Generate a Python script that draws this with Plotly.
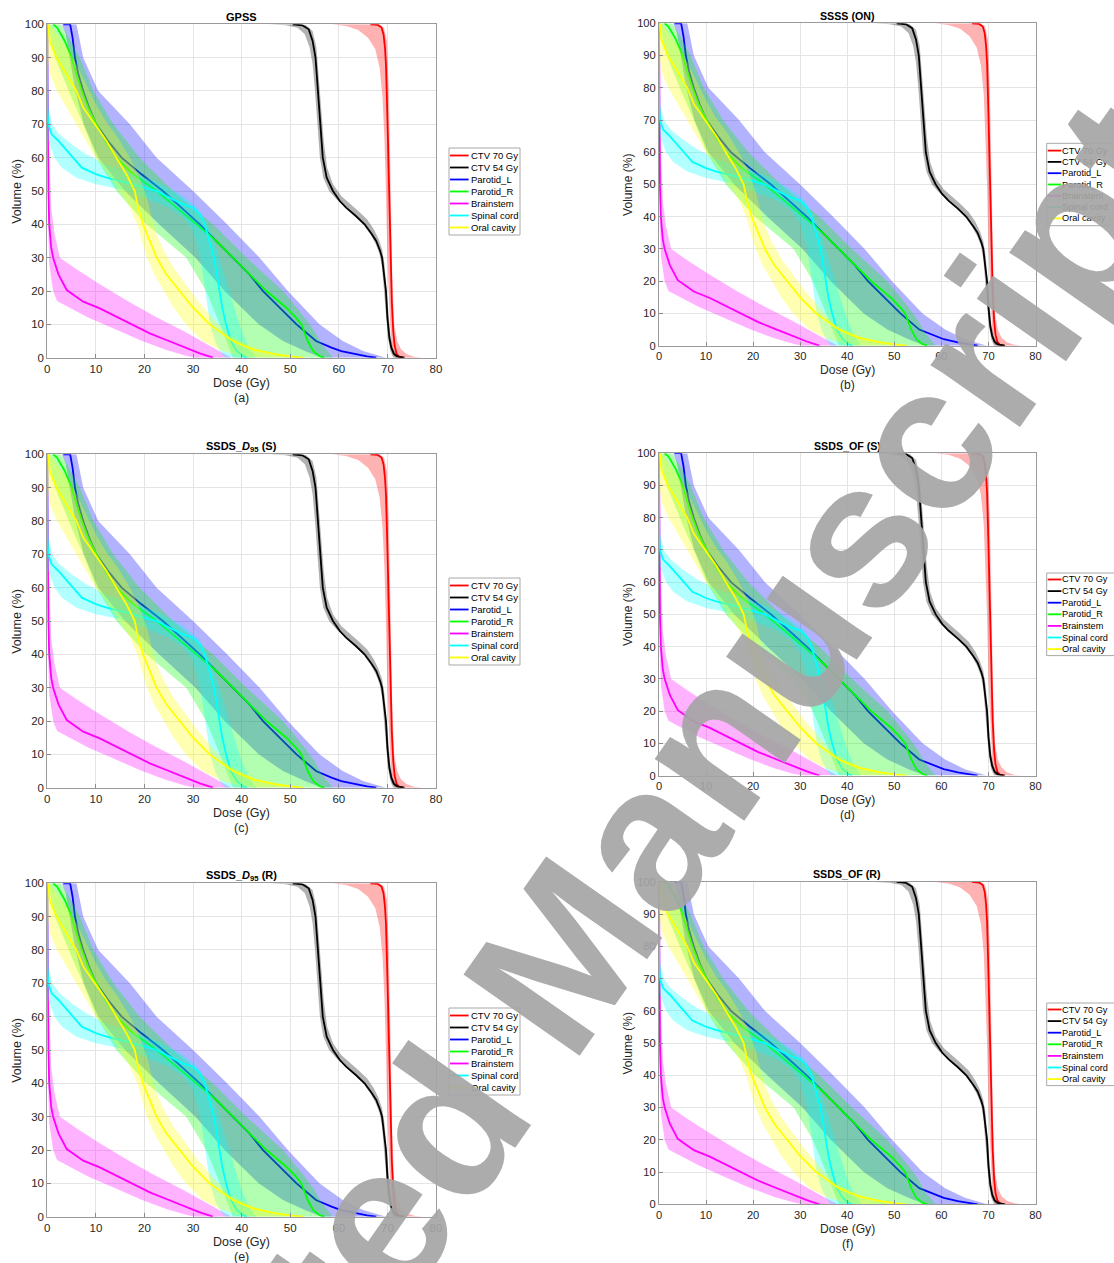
import plotly.graph_objects as go

W, H = 1114, 1263

# ---------------- data ----------------
panel_titles = ["<b>GPSS</b>", "<b>SSSS (ON)</b>",
                "<b>SSDS_<i>D</i><sub>95</sub> (S)</b>", "<b>SSDS_OF (S)</b>",
                "<b>SSDS_<i>D</i><sub>95</sub> (R)</b>", "<b>SSDS_OF (R)</b>"]
panel_letters = ["(a)", "(b)", "(c)", "(d)", "(e)", "(f)"]
structures = ["CTV 70 Gy", "CTV 54 Gy", "Parotid_L", "Parotid_R", "Brainstem", "Spinal cord", "Oral cavity"]
x_ticks = [0, 10, 20, 30, 40, 50, 60, 70, 80]
y_ticks = [0, 10, 20, 30, 40, 50, 60, 70, 80, 90, 100]

ctv70_dose = [66.5, 68.0, 68.8, 69.2, 69.5, 69.7, 70.0, 70.3, 70.6, 70.9, 71.2, 71.5, 71.9, 72.4, 73.2]
ctv70_vol = [100, 99.8, 99, 97, 93, 88, 72, 52, 32, 17, 8, 3.5, 1.2, 0.3, 0]
ctv70_low_dose = [58.5, 61.5, 64.0, 66.0, 67.5, 68.4, 69.0, 69.4, 69.7, 70.0, 70.4, 70.8, 71.2, 71.6]
ctv70_low_vol = [100, 99.5, 98.3, 96, 92.5, 87, 78, 65, 50, 30, 15, 5, 1, 0]
ctv70_high_dose = [68.3, 69.3, 69.9, 70.3, 70.7, 71.0, 71.4, 72.0, 72.8, 74.0, 75.5, 77.0]
ctv70_high_vol = [100, 99, 95, 80, 50, 25, 10, 5, 2.5, 1, 0.3, 0]

ctv54_dose = [50.5, 52.5, 53.8, 54.6, 55.2, 55.7, 56.2, 56.7, 57.5, 58.8, 60.2, 61.5, 63.5, 65.3, 66.8,
              67.7, 68.5, 68.9, 69.3, 69.7, 70.0, 70.4, 70.8, 71.3, 72.0, 73.5]
ctv54_vol = [100, 99.7, 98.5, 95, 90, 80, 70, 60, 54, 50, 47, 45, 42.5, 40, 37,
             35, 32, 30, 25, 20, 12, 6, 3, 1.2, 0.4, 0]
ctv54_low_dose = [45.5, 49.0, 51.5, 53.0, 54.0, 54.6, 55.1, 55.6, 56.1, 56.8, 58.0, 59.5, 61.0, 63.0,
                  65.0, 66.5, 67.6, 68.4, 68.9, 69.3, 69.7, 70.1, 70.6, 71.2]
ctv54_low_vol = [100, 99.7, 99, 97, 93, 88, 80, 70, 60, 54, 50, 47.5, 45.5, 43,
                 40, 37, 34, 31, 27, 21, 13, 6, 2, 0]
ctv54_high_dose = [51.5, 53.2, 54.6, 55.4, 55.9, 56.4, 56.9, 57.6, 58.8, 60.5, 62.0, 64.0, 65.8, 67.2,
                   68.2, 68.9, 69.4, 69.8, 70.2, 70.6, 71.1, 71.8, 72.6, 73.8]
ctv54_high_vol = [100, 99.8, 98, 93, 85, 75, 65, 57, 52, 48.5, 46.5, 44, 41.5, 38.5,
                  35.5, 32.5, 28, 22, 14, 7, 3, 1.2, 0.4, 0]

parl_dose = [3.3, 4.7, 5.2, 5.7, 6.4, 7.4, 8.6, 10.1, 12.5, 15.3, 19.4, 23.8, 27.6, 31.4, 34.8,
             38.2, 41.6, 44.4, 47.8, 51.3, 55.3, 58.5, 60.5, 63.5, 65.8, 67.7]
parl_vol = [100, 100, 96, 90, 85, 80, 75, 70, 65, 60, 55, 50, 45, 40, 35,
            30, 25, 20, 15, 10, 5, 3, 2, 1, 0.4, 0]
parl_low_dose = [3.0, 3.8, 4.6, 5.8, 7.5, 10.5, 16.0, 23.0, 30.5, 36.5, 43.5, 48.5, 53.0, 56.5]
parl_low_vol = [100, 97, 90, 80, 70, 60, 50, 40, 30, 20, 10, 5, 2, 0]
parl_high_dose = [6.0, 7.4, 10.5, 17.0, 22.5, 30.0, 37.0, 43.7, 49.5, 56.0, 60.8, 65.0, 69.7]
parl_high_vol = [100, 90, 80, 70, 60, 50, 40, 30, 20, 10, 5, 2, 0]

parr_dose = [1.2, 2.0, 3.6, 5.0, 6.0, 7.1, 8.4, 10.1, 12.0, 14.2, 17.7, 22.5, 26.6, 30.7, 34.8,
             38.2, 41.6, 45.1, 49.2, 51.2, 52.3, 53.0, 53.6, 54.7, 56.0, 57.0]
parr_vol = [100, 99, 95, 90, 85, 80, 75, 70, 65, 60, 55, 50, 45, 40, 35,
            30, 25, 20, 15, 12, 10, 7.5, 5, 2, 0.5, 0]
parr_low_dose = [0.2, 0.8, 1.6, 3.0, 5.0, 7.4, 10.1, 14.2, 20.4, 28.6, 32.7, 35.5, 36.8, 38.2]
parr_low_vol = [100, 95, 90, 85, 78, 70, 60, 50, 40, 30, 20, 10, 5, 0]
parr_high_dose = [2.8, 4.5, 6.7, 9.5, 13.6, 19.0, 25.9, 34.1, 41.0, 48.5, 53.0, 55.0, 56.5, 58.8]
parr_high_vol = [100, 96, 90, 80, 70, 60, 50, 40, 30, 20, 12, 8, 4, 0]

brain_dose = [0, 0.05, 0.2, 0.4, 0.8, 1.2, 2.3, 4.0, 7.4, 10.8, 14.2, 17.7, 21.1, 24.5, 27.9, 31.4, 34.1]
brain_vol = [100, 70, 50, 40, 33, 30, 25, 20.3, 16.8, 14.8, 12.3, 9.8, 7.3, 5.3, 3.3, 1.3, 0]
brain_low_dose = [0, 0.05, 0.15, 0.4, 1.2, 2.0, 4.5, 8.5, 14.0, 19.5, 24.5, 28.5, 30.5]
brain_low_vol = [100, 60, 40, 28, 20, 17, 15, 12, 8.5, 5, 2.3, 0.6, 0]
brain_high_dose = [0, 0.3, 0.8, 1.5, 2.6, 6.0, 10.8, 16.5, 22.0, 28.0, 33.0, 36.0, 38.0]
brain_high_vol = [100, 65, 45, 37, 30, 26.5, 22, 17, 12.5, 8, 4, 1.5, 0]

cord_dose = [0, 0, 0.2, 0.9, 2.3, 4.0, 5.3, 7.1, 10.1, 12.2, 17.7, 22.5, 25.2, 27.9, 30.0, 31.4,
             32.4, 33.4, 34.3, 34.9, 35.4, 36.0, 36.8, 37.8, 39.0, 40.3, 41.0]
cord_vol = [100, 75, 70, 67, 65, 62, 60, 57, 55, 54, 52, 50, 48, 46, 45, 43,
            40, 35, 30, 25, 20, 15, 10, 5, 2, 0.5, 0]
cord_low_dose = [0, 0, 0.2, 1.5, 3.0, 6.0, 10.0, 15.0, 20.0, 25.0, 28.0, 30.0, 31.5, 32.5, 33.5, 34.5, 35.5, 36.5]
cord_low_vol = [100, 70, 65, 60, 57, 54, 52, 50.5, 48, 45, 42, 38, 30, 20, 10, 5, 2, 0]
cord_high_dose = [0, 0.3, 1.0, 2.5, 5.0, 8.0, 12.0, 18.0, 23.0, 28.0, 31.0, 33.0, 35.0, 37.0, 38.5, 40.0, 41.5, 43.0]
cord_high_vol = [100, 75, 70, 67, 64, 61, 58, 55, 52.5, 48.5, 45, 40, 32, 22, 15, 8, 3, 0]

oral_dose = [0.2, 0.5, 1.9, 4.0, 6.0, 7.4, 9.8, 12.2, 14.2, 16.3, 18.0, 18.7, 19.7, 21.1, 22.5, 24.5,
             27.3, 30.0, 33.4, 38.2, 42.3, 47.1, 50.5, 52.6]
oral_vol = [100, 95, 90, 85, 80, 75, 70, 65, 60, 55, 50, 45, 40, 35, 30, 25,
            20, 15, 10, 5, 2.5, 1, 0.3, 0]
oral_low_dose = [0, 0.1, 0.5, 2.0, 4.0, 6.0, 8.0, 10.0, 12.5, 15.0, 17.0, 18.5, 19.5, 20.5, 22.0,
                 24.0, 26.0, 28.5, 32.0, 36.0, 40.0, 42.0]
oral_low_vol = [100, 90, 85, 80, 75, 70, 65, 60, 55, 50, 45, 40, 35, 30, 25,
                20, 15, 10, 5, 2, 0.5, 0]
oral_high_dose = [0.5, 2.0, 4.0, 6.0, 8.0, 10.0, 12.0, 14.5, 17.0, 19.0, 20.5, 21.5, 22.5, 24.0, 26.0,
                  28.5, 31.0, 34.0, 37.0, 41.0, 45.0, 49.0, 53.0]
oral_high_vol = [100, 97, 93, 88, 82, 76, 71, 66, 60, 54, 48, 42, 37, 32, 27,
                 22, 17, 12, 7, 4, 1.5, 0.5, 0]

watermark_text = "<b>Accepted Manuscript</b>"

# ---------------- styling ----------------
colors = [(255, 0, 0), (0, 0, 0), (0, 0, 255), (0, 255, 0), (255, 0, 255), (0, 255, 255), (255, 255, 0)]
curves = [
    (ctv70_dose, ctv70_vol, ctv70_low_dose, ctv70_low_vol, ctv70_high_dose, ctv70_high_vol),
    (ctv54_dose, ctv54_vol, ctv54_low_dose, ctv54_low_vol, ctv54_high_dose, ctv54_high_vol),
    (parl_dose, parl_vol, parl_low_dose, parl_low_vol, parl_high_dose, parl_high_vol),
    (parr_dose, parr_vol, parr_low_dose, parr_low_vol, parr_high_dose, parr_high_vol),
    (brain_dose, brain_vol, brain_low_dose, brain_low_vol, brain_high_dose, brain_high_vol),
    (cord_dose, cord_vol, cord_low_dose, cord_low_vol, cord_high_dose, cord_high_vol),
    (oral_dose, oral_vol, oral_low_dose, oral_low_vol, oral_high_dose, oral_high_vol),
]

FONT = "Liberation Sans, Arial, Helvetica, sans-serif"
# plot-area pixel boxes: (left, right, top, bottom)
boxes = [
    (47.3, 436.0, 24.3, 357.7),
    (659.0, 1035.5, 23.3, 345.7),
    (47.3, 436.0, 454.3, 787.7),
    (659.0, 1035.5, 453.2, 775.6),
    (47.3, 436.0, 883.3, 1216.7),
    (659.0, 1035.5, 881.9, 1204.3),
]
# legend boxes: (left, top, row spacing, first row offset, line length, text offset, font size)
legend_boxes = [
    (449.0, 148.0, 12.0, 7.5, 18.6, 20.5, 9.5),
    (1046.7, 143.3, 11.3, 7.3, 13.7, 14.6, 9.2),
    (449.0, 578.0, 12.0, 7.5, 18.6, 20.5, 9.5),
    (1046.7, 573.0, 11.6, 6.5, 13.7, 14.6, 9.2),
    (449.0, 1008.0, 12.0, 7.5, 18.6, 20.5, 9.5),
    (1046.7, 1003.0, 11.6, 6.5, 13.7, 14.6, 9.2),
]
# fonts scale slightly in the (smaller) right-hand column
font_scale = [1.0, 0.97, 1.0, 0.97, 1.0, 0.97]


def px(x):
    return x / W


def py(y):
    return 1 - y / H


fig = go.Figure()
layout = dict(width=W, height=H, margin=dict(l=0, r=0, t=0, b=0, pad=0, autoexpand=False),
              paper_bgcolor="white", plot_bgcolor="white", showlegend=False,
              font=dict(family=FONT, color="#262626"))
annotations = []
shapes = []

for i in range(6):
    l, r, t, b = boxes[i]
    s = font_scale[i]
    xa = "xaxis" if i == 0 else f"xaxis{i+1}"
    ya = "yaxis" if i == 0 else f"yaxis{i+1}"
    xr = "x" if i == 0 else f"x{i+1}"
    yr = "y" if i == 0 else f"y{i+1}"
    common = dict(showgrid=True, gridcolor="#e4e4e4", gridwidth=1, zeroline=False,
                  showline=True, linecolor="#9a9a9a", linewidth=1, mirror=True,
                  ticks="inside", ticklen=4, tickcolor="#8a8a8a", automargin=False,
                  tickfont=dict(size=11.5 * s, color="#262626", family=FONT))
    layout[xa] = dict(domain=[px(l), px(r)], range=[0, 80], tickvals=x_ticks, anchor=yr, **common)
    layout[ya] = dict(domain=[py(b), py(t)], range=[0, 100], tickvals=y_ticks, anchor=xr, **common)

    for (md, mv, ld, lv, hd, hv), (cr, cg, cb) in zip(curves, colors):
        fig.add_trace(go.Scatter(x=ld + hd[::-1], y=lv + hv[::-1], fill="toself", mode="lines",
                                 line=dict(width=0), fillcolor=f"rgba({cr},{cg},{cb},0.3)",
                                 hoverinfo="skip", xaxis=xr, yaxis=yr))
        fig.add_trace(go.Scatter(x=md, y=mv, mode="lines",
                                 line=dict(color=f"rgb({cr},{cg},{cb})", width=1.8),
                                 xaxis=xr, yaxis=yr))

    cx = (l + r) / 2
    annotations.append(dict(text=panel_titles[i], x=px(cx), y=py(t - 7.5), xref="paper", yref="paper",
                            xanchor="center", yanchor="middle", showarrow=False,
                            font=dict(size=11 * s, color="#000000", family=FONT)))
    annotations.append(dict(text="Dose (Gy)", x=px(cx), y=py(b + 25 * s), xref="paper", yref="paper",
                            xanchor="center", yanchor="middle", showarrow=False,
                            font=dict(size=12.5 * s, color="#262626", family=FONT)))
    annotations.append(dict(text=panel_letters[i], x=px(cx), y=py(b + 40.5 * s), xref="paper", yref="paper",
                            xanchor="center", yanchor="middle", showarrow=False,
                            font=dict(size=12.5 * s, color="#262626", family=FONT)))
    annotations.append(dict(text="Volume (%)", x=px(l - 30.5), y=py((t + b) / 2), xref="paper", yref="paper",
                            xanchor="center", yanchor="middle", textangle=-90, showarrow=False,
                            font=dict(size=12.5 * s, color="#262626", family=FONT)))

    # legend (drawn manually for compact MATLAB-like spacing)
    lx, ly, step, off, llen, toff, fs = legend_boxes[i]
    nrows = len(structures)
    shapes.append(dict(type="rect", xref="paper", yref="paper", x0=px(lx), x1=px(lx + 71),
                       y0=py(ly), y1=py(ly + off * 2 + step * (nrows - 1)),
                       line=dict(color="#a8a8a8", width=1), fillcolor="white", layer="above"))
    for k, name in enumerate(structures):
        cy = ly + off + k * step
        cr, cg, cb = colors[k]
        shapes.append(dict(type="line", xref="paper", yref="paper", x0=px(lx + 1), x1=px(lx + 1 + llen),
                           y0=py(cy), y1=py(cy), line=dict(color=f"rgb({cr},{cg},{cb})", width=1.8),
                           layer="above"))
        annotations.append(dict(text=name, x=px(lx + toff), y=py(cy), xref="paper", yref="paper",
                                xanchor="left", yanchor="middle", showarrow=False, borderpad=0,
                                font=dict(size=fs, color="#000000", family=FONT)))

# watermark
annotations.append(dict(text=watermark_text, x=px(546), y=py(980), xref="paper", yref="paper",
                        xanchor="center", yanchor="middle", textangle=-55, showarrow=False,
                        font=dict(size=206, color="rgba(165,165,165,0.92)", family=FONT)))

layout["annotations"] = annotations
layout["shapes"] = shapes
fig.update_layout(**layout)
fig.write_html("out.html")
